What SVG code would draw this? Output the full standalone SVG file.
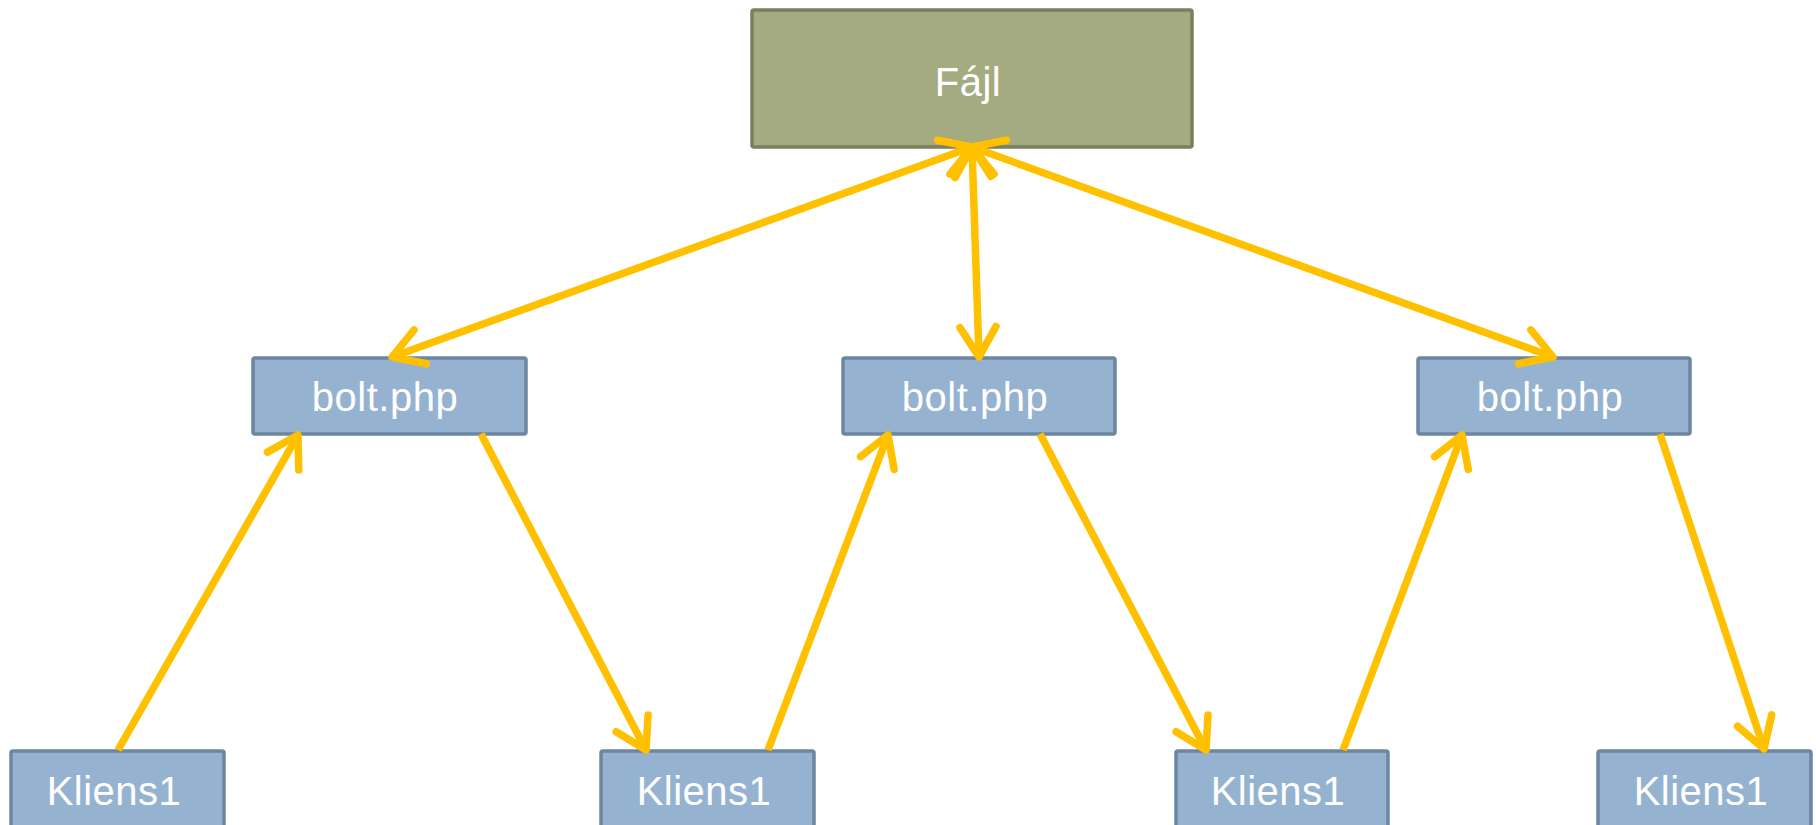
<svg xmlns="http://www.w3.org/2000/svg" width="1816" height="825" viewBox="0 0 1816 825">
<style>
.green{fill:#A5AB80;stroke:#7A7F5E;stroke-width:3.5}
.blue{fill:#95B3D0;stroke:#6D87A0;stroke-width:3.5}
.lbl{font-family:"Liberation Sans",Arial,sans-serif;font-size:40px;fill:#FFFFFF;text-anchor:middle;letter-spacing:0.5px}
.con{stroke:#FFC000;stroke-width:7.5;fill:none;stroke-linecap:butt}
</style>
<defs>
<marker id="ah" markerUnits="userSpaceOnUse" markerWidth="60" markerHeight="60" viewBox="-45 -30 60 60" refX="0" refY="0" orient="auto-start-reverse">
<path d="M -30 -18 L 0 0 L -30 18" fill="none" stroke="#FFC000" stroke-width="7.5" stroke-linecap="round" stroke-linejoin="round"/>
</marker>
</defs>
<rect width="1816" height="825" fill="#FFFFFF"/>
<g id="fajl">
<rect class="green" x="752" y="10" width="440" height="137" rx="2"/>
<text class="lbl" x="968" y="96">Fájl</text>
</g>
<g id="bolt1">
<rect class="blue" x="253" y="358" width="273" height="76" rx="2"/>
<text class="lbl" x="385" y="411">bolt.php</text>
</g>
<g id="bolt2">
<rect class="blue" x="843" y="358" width="272" height="76" rx="2"/>
<text class="lbl" x="975" y="411">bolt.php</text>
</g>
<g id="bolt3">
<rect class="blue" x="1418" y="358" width="272" height="76" rx="2"/>
<text class="lbl" x="1550" y="411">bolt.php</text>
</g>
<g id="kliens1">
<rect class="blue" x="11" y="751" width="213" height="76" rx="2"/>
<text class="lbl" x="114" y="805">Kliens1</text>
</g>
<g id="kliens2">
<rect class="blue" x="601" y="751" width="213" height="76" rx="2"/>
<text class="lbl" x="704" y="805">Kliens1</text>
</g>
<g id="kliens3">
<rect class="blue" x="1176" y="751" width="212" height="76" rx="2"/>
<text class="lbl" x="1278" y="805">Kliens1</text>
</g>
<g id="kliens4">
<rect class="blue" x="1598" y="751" width="213" height="76" rx="2"/>
<text class="lbl" x="1701" y="805">Kliens1</text>
</g>
<g id="connectors">
<line class="con" x1="972" y1="147" x2="392" y2="357" marker-start="url(#ah)" marker-end="url(#ah)"/>
<line class="con" x1="972" y1="147" x2="979" y2="357" marker-start="url(#ah)" marker-end="url(#ah)"/>
<line class="con" x1="972" y1="147" x2="1553" y2="357" marker-start="url(#ah)" marker-end="url(#ah)"/>
<line class="con" x1="118" y1="750" x2="298" y2="435" marker-end="url(#ah)"/>
<line class="con" x1="481" y1="434" x2="646" y2="750" marker-end="url(#ah)"/>
<line class="con" x1="768" y1="750" x2="888" y2="435" marker-end="url(#ah)"/>
<line class="con" x1="1040" y1="434" x2="1206" y2="750" marker-end="url(#ah)"/>
<line class="con" x1="1343" y1="750" x2="1462" y2="435" marker-end="url(#ah)"/>
<line class="con" x1="1660" y1="434" x2="1764" y2="749" marker-end="url(#ah)"/>
</g>
</svg>
